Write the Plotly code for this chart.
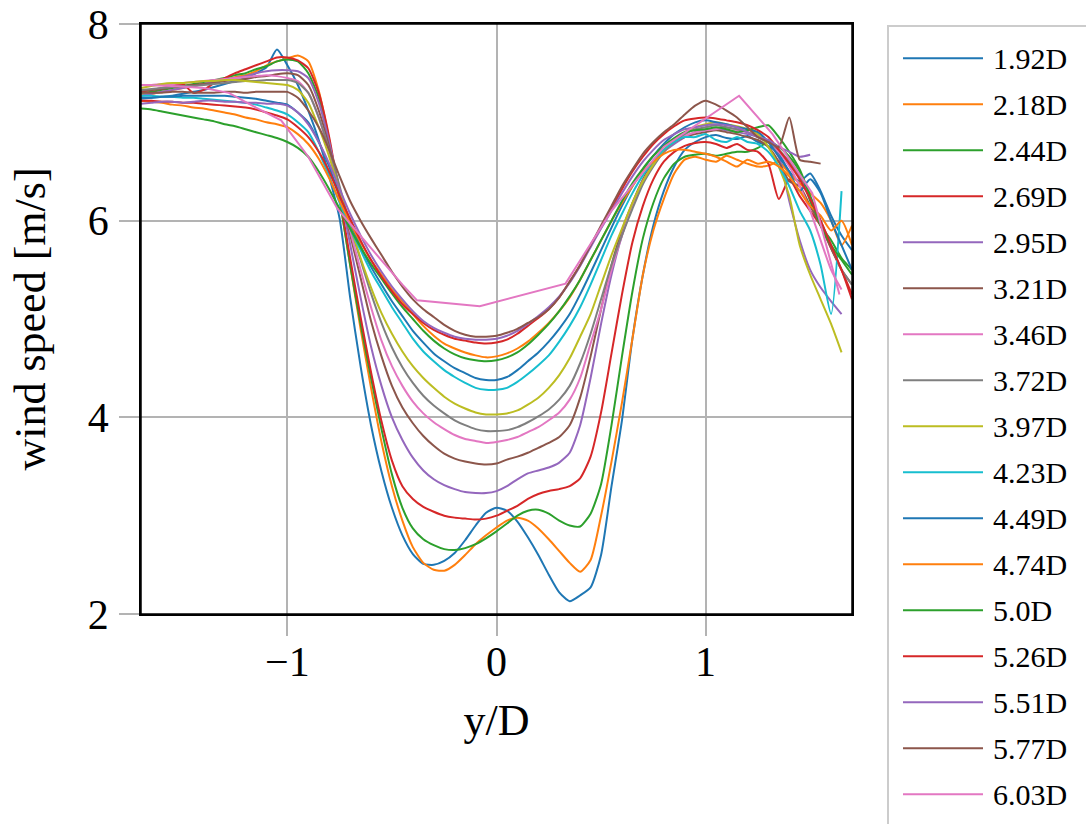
import plotly.graph_objects as go

# common lateral grid y/D
X = [-1.70, -1.65, -1.60, -1.55, -1.50, -1.45, -1.40, -1.35, -1.30, -1.25,
     -1.20, -1.15, -1.10, -1.05, -1.00, -0.95, -0.90, -0.85, -0.80, -0.75,
     -0.70, -0.65, -0.60, -0.55, -0.50, -0.45, -0.40, -0.35, -0.30, -0.25,
     -0.20, -0.15, -0.10, -0.05, 0.00, 0.05, 0.10, 0.15, 0.20, 0.25,
     0.30, 0.35, 0.40, 0.45, 0.50, 0.55, 0.60, 0.65, 0.70, 0.75,
     0.80, 0.85, 0.90, 0.95, 1.00, 1.05, 1.10, 1.15, 1.20, 1.25,
     1.30, 1.35, 1.40, 1.45, 1.50, 1.55, 1.60, 1.65, 1.70]

LABELS = ["1.92D", "2.18D", "2.44D", "2.69D", "2.95D", "3.21D", "3.46D", "3.72D", "3.97D",
          "4.23D", "4.49D", "4.74D", "5.0D", "5.26D", "5.51D", "5.77D", "6.03D"]

COLORS = ["#1f77b4", "#ff7f0e", "#2ca02c", "#d62728", "#9467bd", "#8c564b", "#e377c2",
          "#7f7f7f", "#bcbd22", "#17becf", "#1f77b4", "#ff7f0e", "#2ca02c", "#d62728",
          "#9467bd", "#8c564b", "#e377c2"]

Y_192 = [7.24, 7.25, 7.26, 7.27, 7.29, 7.31, 7.33, 7.36, 7.39, 7.42, 7.45, 7.50, 7.56, 7.74,
         7.58, 7.38, 7.12, 6.82, 6.45, 6.02,
         5.22, 4.52, 3.92, 3.45, 3.08, 2.80, 2.61, 2.51, 2.50, 2.54, 2.62, 2.75, 2.90, 3.03,
         3.08, 3.05, 2.94, 2.78, 2.60, 2.40, 2.22, 2.13, 2.19, 2.27, 2.60, 3.30, 3.97, 4.80, 5.45,
         5.95, 6.30, 6.55, 6.72, 6.80, 6.85, 6.87, 6.84, 6.83, 6.86, 6.80, 6.76, 6.68, 6.50, 6.40,
         6.48, 6.30, 6.05, 5.85, 5.70]
Y_218 = [7.28, 7.29, 7.31, 7.33, 7.35, 7.37, 7.39, 7.41, 7.43, 7.46, 7.48, 7.52, 7.58, 7.62,
         7.65, 7.68, 7.62, 7.32, 6.82, 6.22,
         5.55, 4.90, 4.30, 3.75, 3.30, 2.95, 2.68, 2.52, 2.45, 2.44, 2.50, 2.60, 2.71, 2.80,
         2.88, 2.95, 2.98, 2.95, 2.87, 2.76, 2.64, 2.52, 2.43, 2.55, 3.00, 3.55, 4.15, 4.80, 5.45,
         5.90, 6.22, 6.48, 6.62, 6.65, 6.62, 6.60, 6.66, 6.62, 6.58, 6.55, 6.56, 6.60, 6.48, 6.38,
         6.28, 6.18, 6.00, 5.75, 5.95]
Y_244 = [7.30, 7.31, 7.33, 7.35, 7.37, 7.39, 7.41, 7.43, 7.45, 7.48, 7.50, 7.54, 7.57, 7.62,
         7.64, 7.62, 7.50, 7.25, 6.80, 6.22,
         5.55, 4.95, 4.40, 3.88, 3.42, 3.08, 2.87, 2.76, 2.70, 2.66, 2.65, 2.67, 2.71, 2.77,
         2.84, 2.92, 3.00, 3.05, 3.06, 3.02, 2.95, 2.90, 2.89, 3.02, 3.32, 3.92, 4.62, 5.28, 5.82,
         6.18, 6.43, 6.58, 6.65, 6.67, 6.68, 6.66, 6.68, 6.70, 6.70, 6.74, 6.80, 6.75, 6.65, 6.50,
         6.20, 5.95, 5.80, 5.62, 5.50]
Y_269 = [7.31, 7.33, 7.35, 7.37, 7.39, 7.30, 7.33, 7.40, 7.45, 7.50, 7.54, 7.58, 7.62, 7.66,
         7.66, 7.63, 7.55, 7.30, 6.85, 6.25,
         5.62, 5.02, 4.46, 3.96, 3.56, 3.30, 3.17, 3.09, 3.04, 3.00, 2.98, 2.97, 2.96, 2.97,
         3.00, 3.05, 3.10, 3.17, 3.22, 3.25, 3.27, 3.30, 3.38, 3.60, 4.05, 4.65, 5.25, 5.78, 6.15,
         6.42, 6.60, 6.70, 6.76, 6.79, 6.80, 6.78, 6.74, 6.78, 6.72, 6.70, 6.58, 6.22, 6.42, 6.25,
         6.10, 5.95, 5.72, 5.50, 5.25]
Y_295 = [7.27, 7.29, 7.31, 7.33, 7.35, 7.37, 7.39, 7.41, 7.43, 7.45, 7.47, 7.50, 7.52, 7.53,
         7.53, 7.52, 7.45, 7.20, 6.80, 6.30,
         5.76, 5.22, 4.72, 4.32, 4.00, 3.77, 3.59, 3.46, 3.37, 3.31, 3.27, 3.24, 3.23, 3.23,
         3.25, 3.30, 3.37, 3.43, 3.46, 3.49, 3.54, 3.64, 3.92, 4.40, 4.95, 5.45, 5.85, 6.15, 6.40,
         6.58, 6.70, 6.78, 6.85, 6.90, 6.92, 6.93, 6.92, 6.90, 6.88, 6.85, 6.80, 6.65, 6.20, 5.80,
         5.50, 5.32, 5.18, 5.05, None]
Y_321 = [7.32, 7.33, 7.34, 7.36, 7.37, 7.38, 7.39, 7.40, 7.42, 7.43, 7.44, 7.46, 7.47, 7.49,
         7.50, 7.48, 7.38, 7.12, 6.75, 6.32,
         5.86, 5.42, 4.98, 4.62, 4.32, 4.10, 3.94, 3.81, 3.71, 3.63, 3.58, 3.55, 3.53, 3.52,
         3.53, 3.57, 3.60, 3.64, 3.69, 3.74, 3.80, 3.92, 4.20, 4.62, 5.10, 5.55, 5.90, 6.18, 6.42,
         6.60, 6.72, 6.80, 6.85, 6.88, 6.90, 6.92, 6.90, 6.88, 6.85, 6.82, 6.75, 6.60, 6.40, 6.35,
         6.15, 5.95, 5.72, 5.50, 5.35]
Y_346 = [7.38, 7.38, 7.39, 7.39, 7.40, 7.41, 7.42, 7.43, 7.44, 7.45, 7.46, 7.47, 7.48, 7.47,
         7.45, 7.42, 7.30, 7.05, 6.70, 6.30,
         5.90, 5.50, 5.12, 4.78, 4.52, 4.32, 4.16, 4.04, 3.95, 3.88, 3.82, 3.78, 3.76, 3.74,
         3.75, 3.77, 3.80, 3.85, 3.90, 3.97, 4.05, 4.18, 4.40, 4.75, 5.10, 5.50, 5.85, 6.15, 6.40,
         6.57, 6.70, 6.80, 6.86, 6.90, 6.92, 6.93, 6.95, 6.92, 6.90, 6.87, 6.80, 6.70, 6.55, 6.35,
         6.10, 5.80, 5.50, 5.30, None]
Y_372 = [7.33, 7.34, 7.35, 7.36, 7.37, 7.37, 7.38, 7.39, 7.40, 7.41, 7.42, 7.42, 7.43, 7.43,
         7.43, 7.40, 7.30, 7.05, 6.72, 6.35,
         5.95, 5.60, 5.26, 4.96, 4.71, 4.51, 4.35, 4.22, 4.12, 4.04, 3.97, 3.92, 3.88, 3.86,
         3.86, 3.87, 3.90, 3.95, 4.01, 4.08, 4.18, 4.32, 4.55, 4.85, 5.20, 5.55, 5.85, 6.12, 6.37,
         6.55, 6.70, 6.80, 6.88, 6.93, 6.95, 6.97, 6.95, 6.93, 6.90, 6.85, 6.80, 6.72, 6.60, 6.45,
         6.25, 6.00, 5.75, 5.50, 5.35]
Y_397 = [7.35, 7.37, 7.39, 7.40, 7.40, 7.41, 7.42, 7.42, 7.43, 7.43, 7.42, 7.41, 7.40, 7.39,
         7.38, 7.33, 7.20, 6.95, 6.65, 6.30,
         5.95, 5.62, 5.32, 5.06, 4.85, 4.67, 4.52, 4.40, 4.30, 4.21, 4.14, 4.09, 4.05, 4.03,
         4.03, 4.04, 4.07, 4.13, 4.20, 4.30, 4.43, 4.60, 4.82, 5.05, 5.35, 5.65, 5.92, 6.18, 6.40,
         6.57, 6.72, 6.82, 6.90, 6.95, 6.98, 7.00, 6.98, 6.96, 6.93, 6.88, 6.75, 6.55, 6.25, 5.75,
         5.45, 5.20, 4.95, 4.66, None]
Y_423 = [7.27, 7.27, 7.26, 7.26, 7.25, 7.25, 7.24, 7.23, 7.22, 7.21, 7.20, 7.18, 7.15, 7.12,
         7.08, 7.00, 6.90, 6.70, 6.45, 6.18,
         5.92, 5.70, 5.48, 5.30, 5.12, 4.96, 4.80, 4.67, 4.57, 4.48, 4.41, 4.35, 4.30, 4.28,
         4.28, 4.30, 4.36, 4.44, 4.53, 4.63, 4.77, 4.93, 5.12, 5.35, 5.60, 5.85, 6.07, 6.28, 6.46,
         6.60, 6.72, 6.80, 6.85, 6.85, 6.88, 6.82, 6.80, 6.85, 6.80, 6.78, 6.70, 6.55, 6.35, 6.10,
         5.90, 5.55, 5.05, 6.30, None]
Y_449 = [7.25, 7.25, 7.26, 7.26, 7.27, 7.27, 7.27, 7.27, 7.27, 7.26, 7.25, 7.24, 7.22, 7.20,
         7.18, 7.10, 7.00, 6.80, 6.55, 6.25,
         5.98, 5.74, 5.53, 5.35, 5.18, 5.03, 4.88, 4.76, 4.65, 4.57, 4.50, 4.45, 4.40, 4.38,
         4.38, 4.41, 4.48, 4.57, 4.66, 4.77, 4.90, 5.05, 5.25, 5.47, 5.70, 5.93, 6.15, 6.35, 6.52,
         6.66, 6.78, 6.88, 6.95, 7.00, 7.02, 7.00, 6.98, 6.95, 6.93, 6.90, 6.80, 6.65, 6.50, 6.30,
         6.42, 6.28, 6.00, 5.75, 5.50]
Y_474 = [7.22, 7.21, 7.20, 7.18, 7.17, 7.15, 7.14, 7.12, 7.10, 7.08, 7.05, 7.03, 7.00, 6.98,
         6.95, 6.88, 6.78, 6.63, 6.43, 6.20,
         5.98, 5.78, 5.60, 5.45, 5.30, 5.18, 5.05, 4.93, 4.83, 4.75, 4.70, 4.66, 4.63, 4.61,
         4.62, 4.65, 4.70, 4.77, 4.86, 4.96, 5.08, 5.22, 5.40, 5.60, 5.80, 6.00, 6.18, 6.35, 6.50,
         6.60, 6.68, 6.72, 6.72, 6.70, 6.68, 6.65, 6.60, 6.55, 6.62, 6.58, 6.60, 6.55, 6.45, 6.30,
         6.15, 6.05, 5.90, 6.00, 5.75]
Y_500 = [7.14, 7.13, 7.11, 7.09, 7.07, 7.05, 7.03, 7.01, 6.98, 6.96, 6.93, 6.90, 6.87, 6.84,
         6.80, 6.74, 6.65, 6.50, 6.32, 6.12,
         5.92, 5.73, 5.56, 5.41, 5.26, 5.12, 5.00, 4.88, 4.78, 4.70, 4.64, 4.60, 4.58, 4.57,
         4.58, 4.61, 4.66, 4.74, 4.84, 4.95, 5.08, 5.23, 5.40, 5.60, 5.80, 6.00, 6.20, 6.38, 6.53,
         6.66, 6.76, 6.84, 6.90, 6.92, 6.93, 6.95, 6.93, 6.90, 6.92, 6.95, 6.97, 6.85, 6.70, 6.52,
         6.25, 5.95, 5.75, 5.60, 5.45]
Y_526 = [7.22, 7.22, 7.21, 7.21, 7.20, 7.20, 7.19, 7.18, 7.17, 7.16, 7.15, 7.13, 7.10, 7.07,
         7.03, 6.95, 6.85, 6.70, 6.50, 6.25,
         6.02, 5.80, 5.60, 5.43, 5.28, 5.15, 5.05, 4.96, 4.89, 4.84, 4.80, 4.78, 4.76, 4.75,
         4.76, 4.79, 4.85, 4.93, 5.01, 5.10, 5.22, 5.38, 5.55, 5.75, 5.93, 6.12, 6.32, 6.50, 6.65,
         6.78, 6.88, 6.96, 7.02, 7.04, 7.05, 7.04, 7.02, 7.00, 6.97, 6.92, 6.85, 6.72, 6.58, 6.42,
         6.22, 6.00, 5.75, 5.50, 5.20]
Y_551 = [7.19, 7.20, 7.21, 7.21, 7.20, 7.21, 7.22, 7.22, 7.21, 7.21, 7.20, 7.20, 7.19, 7.19,
         7.17, 7.10, 6.98, 6.80, 6.58, 6.32,
         6.07, 5.85, 5.65, 5.48, 5.33, 5.20, 5.08, 4.98, 4.91, 4.86, 4.82, 4.80, 4.79, 4.79,
         4.80, 4.83, 4.88, 4.95, 5.03, 5.12, 5.23, 5.37, 5.54, 5.73, 5.92, 6.10, 6.28, 6.45, 6.60,
         6.72, 6.82, 6.88, 6.93, 6.95, 6.97, 6.98, 6.97, 6.95, 6.90, 6.85, 6.82, 6.75, 6.70, 6.65,
         6.67, None, None, None, None]
Y_577 = [7.30, 7.30, 7.30, 7.31, 7.31, 7.30, 7.30, 7.30, 7.31, 7.31, 7.30, 7.31, 7.31, 7.31,
         7.31, 7.25, 7.12, 6.95, 6.72, 6.45,
         6.20, 6.00, 5.82, 5.65, 5.48, 5.33, 5.20, 5.10, 5.02, 4.94, 4.88, 4.84, 4.82, 4.82,
         4.83, 4.86, 4.90, 4.96, 5.02, 5.10, 5.22, 5.38, 5.55, 5.75, 5.95, 6.15, 6.35, 6.52, 6.68,
         6.80, 6.90, 6.98, 7.08, 7.17, 7.22, 7.18, 7.12, 7.05, 6.95, 6.85, 6.80, 6.75, 7.05, 6.62,
         6.60, 6.58, None, None, None]

# 6.03D was sampled more sparsely
X_603 = [-1.70, -1.55, -1.40, -1.28, -1.15, -1.03, -0.90, -0.76, -0.60, -0.45, -0.38,
         -0.08, 0.33, 0.55, 0.80, 1.16, 1.32, 1.51, 1.64]
Y_603 = [7.38, 7.37, 7.35, 7.30, 7.15, 7.02, 6.65, 6.12, 5.72, 5.35, 5.19,
         5.13, 5.36, 6.10, 6.75, 7.27, 6.88, 6.28, 5.25]

SERIES = [Y_192, Y_218, Y_244, Y_269, Y_295, Y_321, Y_346, Y_372, Y_397,
          Y_423, Y_449, Y_474, Y_500, Y_526, Y_551, Y_577]
for s in SERIES:
    assert len(s) == len(X), len(s)

FONT = "Liberation Serif, Times New Roman, serif"

fig = go.Figure()
for i, ys in enumerate(SERIES):
    fig.add_trace(go.Scatter(x=X, y=ys, mode="lines", name=LABELS[i],
                             line=dict(color=COLORS[i], width=2, shape="spline", smoothing=0.6),
                             showlegend=False))
fig.add_trace(go.Scatter(x=X_603, y=Y_603, mode="lines", name=LABELS[16],
                         line=dict(color=COLORS[16], width=2), showlegend=False))

# figure fills the whole 1086x824 window (page margin removed below)
W, H = 1086, 824
ML, MR, MT, MB = 141, 234, 24, 210
PW, PH = W - ML - MR, H - MT - MB

def px_to_paper_x(px):
    return (px - ML) / PW

def px_to_paper_y(py):
    return (H - MB - py) / PH

# plot frame
shapes = [dict(type="rect", xref="paper", yref="paper", x0=0, x1=1, y0=0, y1=1,
               line=dict(color="black", width=1.5), layer="above")]
# custom legend box (runs off the bottom/right of the canvas like the original)
shapes.append(dict(type="rect", xref="paper", yref="paper",
                   x0=px_to_paper_x(888), x1=px_to_paper_x(1120),
                   y0=px_to_paper_y(26), y1=px_to_paper_y(860),
                   line=dict(color="#cccccc", width=2), fillcolor="white", layer="above"))
annotations = []
for i, lab in enumerate(LABELS):
    py = 58.3 + 46.0 * i
    yp = px_to_paper_y(py)
    shapes.append(dict(type="line", xref="paper", yref="paper",
                       x0=px_to_paper_x(903), x1=px_to_paper_x(983), y0=yp, y1=yp,
                       line=dict(color=COLORS[i], width=2), layer="above"))
    annotations.append(dict(text=lab, xref="paper", yref="paper", x=px_to_paper_x(991),
                            y=yp, xanchor="left", yanchor="middle", showarrow=False,
                            font=dict(family=FONT, size=30, color="black")))

axis_common = dict(showgrid=True, gridcolor="#b3b3b3", gridwidth=1.5, zeroline=False,
                   ticks="outside", ticklen=20, tickwidth=1.5, tickcolor="#b3b3b3",
                   showline=True, linecolor="black", linewidth=1.5, mirror=True,
                   automargin=False, ticklabeloverflow="allow",
                   tickfont=dict(family=FONT, size=42, color="black"))

fig.update_layout(
    width=W, height=H,
    margin=dict(l=ML, r=MR, t=MT, b=MB, pad=0, autoexpand=False),
    paper_bgcolor="white", plot_bgcolor="white",
    font=dict(family=FONT, color="black"),
    xaxis=dict(range=[-1.7, 1.7], tickvals=[-1, 0, 1], ticktext=["\u22121", "0", "1"],
               title=dict(text="y/D", font=dict(family=FONT, size=44), standoff=20),
               ticklabelstandoff=-10, **axis_common),
    yaxis=dict(range=[2, 8], tickvals=[2, 4, 6, 8],
               title=dict(text="wind speed [m/s]", font=dict(family=FONT, size=44), standoff=28),
               ticklabelstandoff=2, **axis_common),
    shapes=shapes, annotations=annotations, showlegend=False,
)

fig.write_html("out.html", config={"displayModeBar": False},
               post_script="document.body.style.margin='0';document.body.style.overflow='hidden';")
